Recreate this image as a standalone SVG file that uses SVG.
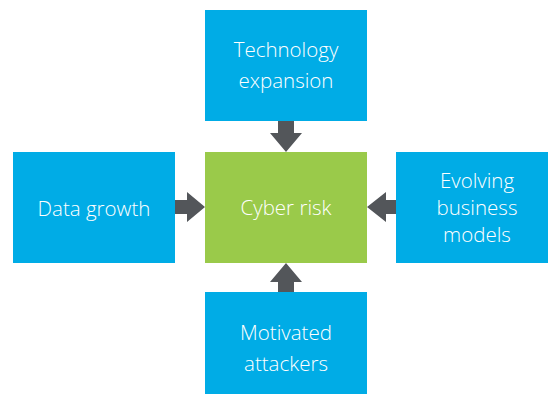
<svg xmlns="http://www.w3.org/2000/svg" width="548" height="394" viewBox="0 0 548 394">
<style>
.box{fill:#00ace6}
.core{fill:#9aca4a}
.t{font-family:"Open Sans","Liberation Sans",sans-serif;font-weight:300;font-size:20.5px;fill:#ffffff;text-anchor:middle}
.arr{fill:#53565a}
</style>
<rect width="548" height="394" fill="#ffffff"/>
<g id="connectors">
<path class="arr" d="M278 121H294V133H302L286 152L270 133H278Z"/>
<path class="arr" d="M175 200H187V192L205 207L187 222V214H175Z"/>
<path class="arr" d="M396 200H386V192L367 207L386 222V214H396Z"/>
<path class="arr" d="M278 292H294V282H302L286 263L270 282H278Z"/>
</g>
<g id="cyber-risk">
<rect class="core" x="205" y="152" width="162" height="111"/>
<text class="t" x="286" y="215">Cyber risk</text>
</g>
<g id="technology-expansion">
<rect class="box" x="205" y="10" width="162" height="111"/>
<text class="t" x="286" y="57">Technology</text>
<text class="t" x="286" y="88">expansion</text>
</g>
<g id="data-growth">
<rect class="box" x="13" y="152" width="162" height="111"/>
<text class="t" x="94" y="216">Data growth</text>
</g>
<g id="evolving-business-models">
<rect class="box" x="396" y="152" width="162" height="111"/>
<text class="t" x="477" y="188">Evolving</text>
<text class="t" x="477" y="215">business</text>
<text class="t" x="477" y="242">models</text>
</g>
<g id="motivated-attackers">
<rect class="box" x="205" y="292" width="162" height="111"/>
<text class="t" x="286" y="340">Motivated</text>
<text class="t" x="286" y="371">attackers</text>
</g>
</svg>
